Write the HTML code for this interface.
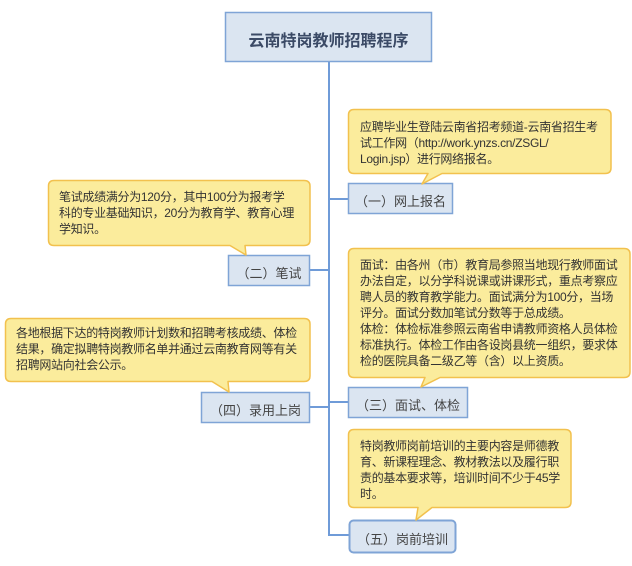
<!DOCTYPE html>
<html><head><meta charset="utf-8"><style>
body{margin:0;background:#fff;width:632px;height:566px;position:relative;overflow:hidden;font-family:"Liberation Sans","Noto Sans CJK SC",sans-serif}
svg{position:absolute;left:0;top:0}
.t{position:absolute;font-size:12px;line-height:16px;color:#333;white-space:nowrap;letter-spacing:-0.3px}
.b{position:absolute;font-size:13px;color:#444;text-align:center}
</style></head><body>
<svg width="632" height="566">
<g stroke="#6f9bd8" stroke-width="2" fill="none">
<path d="M329 61 V535 H349"/>
<path d="M329 199 H348"/><path d="M310 270 H329"/><path d="M329 402 H348"/><path d="M310 407 H329"/>
</g>
<g fill="#dbe5f1" stroke="#7fa4d6" stroke-width="1.5">
<rect x="225.5" y="12.5" width="206" height="49"/>
<rect x="348.5" y="183.5" width="104" height="30"/>
<rect x="228.5" y="255.5" width="81" height="30"/>
<rect x="348.5" y="387.5" width="119" height="30"/>
<rect x="201.5" y="392.5" width="108" height="30"/>
<rect x="349.5" y="520.5" width="106" height="32" rx="4" stroke-width="2"/>
</g>
<g fill="#fbec9c" stroke="#f2c14e" stroke-width="1.5" stroke-linejoin="round">
<path d="M354 109.5 H605 Q611 109.5 611 115 V168 Q611 173.5 605 173.5 H442 L422 184 L428 173.5 H354 Q348.5 173.5 348.5 168 V115 Q348.5 109.5 354 109.5Z"/>
<path d="M54 180.5 H304 Q310 180.5 310 186 V240 Q310 245.5 304 245.5 H245 L246 255 L230 245.5 H54 Q48.5 245.5 48.5 240 V186 Q48.5 180.5 54 180.5Z"/>
<path d="M354 248.5 H624 Q630 248.5 630 254 V372 Q630 377.5 624 377.5 H440 L421 387 L425 377.5 H354 Q348.5 377.5 348.5 372 V254 Q348.5 248.5 354 248.5Z"/>
<path d="M11 318.5 H304 Q310 318.5 310 324 V376 Q310 381.5 304 381.5 H228 L229 392 L212 381.5 H11 Q5.5 381.5 5.5 376 V324 Q5.5 318.5 11 318.5Z"/>
<path d="M354 429.5 H565 Q571 429.5 571 435 V502 Q571 507.5 565 507.5 H432 L416 520 L418 507.5 H354 Q348.5 507.5 348.5 502 V435 Q348.5 429.5 354 429.5Z"/>
</g>
</svg>
<div class="b" style="left:225px;top:27px;width:207px;font-size:16px;color:#3b4a66;font-weight:bold">云南特岗教师招聘程序</div>
<div class="b" style="left:348px;top:191px;width:105px">（一）网上报名</div>
<div class="b" style="left:228px;top:263px;width:82px">（二）笔试</div>
<div class="b" style="left:348px;top:395px;width:120px">（三）面试、体检</div>
<div class="b" style="left:201px;top:400px;width:109px">（四）录用上岗</div>
<div class="b" style="left:349px;top:529px;width:107px">（五）岗前培训</div>
<div class="t" style="left:360px;top:119px">应聘毕业生登陆云南省招考频道-云南省招生考<br>试工作网（http://work.ynzs.cn/ZSGL/<br>Login.jsp）进行网络报名。</div>
<div class="t" style="left:59px;top:189px">笔试成绩满分为120分，其中100分为报考学<br>科的专业基础知识，20分为教育学、教育心理<br>学知识。</div>
<div class="t" style="left:360px;top:257px">面试：由各州（市）教育局参照当地现行教师面试<br>办法自定，以分学科说课或讲课形式，重点考察应<br>聘人员的教育教学能力。面试满分为100分，当场<br>评分。面试分数加笔试分数等于总成绩。<br>体检：体检标准参照云南省申请教师资格人员体检<br>标准执行。体检工作由各设岗县统一组织，要求体<br>检的医院具备二级乙等（含）以上资质。</div>
<div class="t" style="left:16px;top:325px">各地根据下达的特岗教师计划数和招聘考核成绩、体检<br>结果，确定拟聘特岗教师名单并通过云南教育网等有关<br>招聘网站向社会公示。</div>
<div class="t" style="left:360px;top:438px">特岗教师岗前培训的主要内容是师德教<br>育、新课程理念、教材教法以及履行职<br>责的基本要求等，培训时间不少于45学<br>时。</div>
</body></html>
